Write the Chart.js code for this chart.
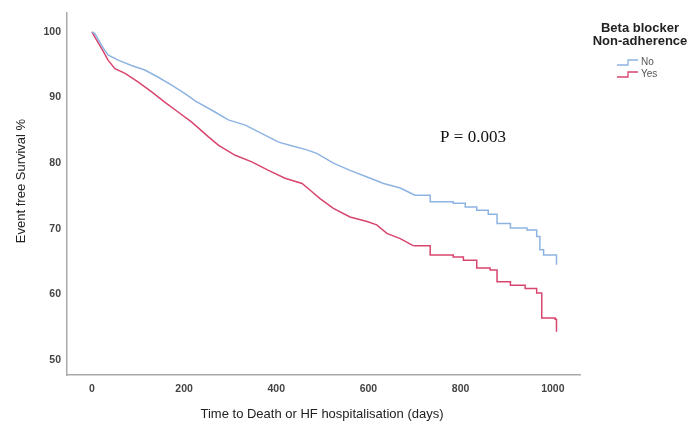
<!DOCTYPE html>
<html>
<head>
<meta charset="utf-8">
<script src="https://cdn.jsdelivr.net/npm/chart.js@4/dist/chart.umd.min.js"></script>
<style>
  html, body { margin: 0; padding: 0; background: #fff; }
  #wrap { width: 694px; height: 427px; }
</style>
</head>
<body>
<div id="wrap"><canvas id="km"></canvas></div>
<script>
// Kaplan-Meier curves (days, event free survival %)
// early part: many small events, reads as a near smooth line
var noDays = [0, 6, 25, 35, 57, 86, 115, 144, 173, 202, 224, 267, 296, 333, 369, 405, 441, 463, 488, 524, 560, 597, 633, 669, 701];
var noSurv = [100, 99.8, 97.5, 96.5, 95.7, 94.9, 94.2, 93.1, 91.9, 90.6, 89.5, 87.8, 86.6, 85.8, 84.5, 83.2, 82.5, 82.1, 81.5, 80, 78.9, 77.9, 76.9, 76.2, 75.1];
// tail: clear steps
var noTailDays = [701, 734, 784, 810, 835, 860, 879, 908, 944, 965, 972, 980, 1001, 1008];
var noTailSurv = [75.1, 74.1, 73.9, 73.3, 72.8, 72.2, 70.8, 70.1, 69.8, 68.8, 66.8, 66, 66, 64.5];

var yesDays = [0, 10, 25, 35, 50, 72, 100, 129, 158, 187, 216, 253, 275, 311, 347, 383, 419, 456, 473, 495, 524, 560, 597, 618, 640, 669, 698];
var yesSurv = [100, 98.8, 97, 95.7, 94.4, 93.7, 92.4, 90.9, 89.3, 87.8, 86.3, 84, 82.7, 81.2, 80.2, 78.9, 77.7, 76.9, 75.9, 74.6, 73.1, 71.8, 71.1, 70.6, 69.3, 68.5, 67.4];
var yesTailDays = [698, 734, 784, 806, 835, 864, 879, 908, 940, 965, 976, 1005, 1008];
var yesTailSurv = [67.4, 66, 65.7, 65.2, 64, 63.7, 61.9, 61.4, 60.9, 60.2, 56.4, 56.2, 54.3];

var xTicks = [0, 200, 400, 600, 800, 1000];
var yTicks = [50, 60, 70, 80, 90, 100];

var blue = "#8db3e2";
var red = "#d8456e";

function pts(xs, ys) {
  return xs.map(function (x, i) { return { x: x, y: ys[i] }; });
}

function curve(label, xs, ys, color, stepped) {
  return {
    label: label,
    data: pts(xs, ys),
    borderColor: color,
    borderWidth: 1.5,
    pointRadius: 0,
    stepped: stepped,
    tension: 0,
    fill: false
  };
}

var textPlugin = {
  id: "texts",
  afterDraw: function (chart) {
    var ctx = chart.ctx;
    ctx.save();
    ctx.fillStyle = "#222";
    ctx.textAlign = "center";
    ctx.textBaseline = "middle";

    // axis titles
    ctx.font = "13px 'Liberation Sans', Arial, sans-serif";
    ctx.fillText("Time to Death or HF hospitalisation (days)", 322, 414);
    ctx.save();
    ctx.translate(21, 181);
    ctx.rotate(-Math.PI / 2);
    ctx.fillText("Event free Survival %", 0, 0);
    ctx.restore();

    // legend
    ctx.font = "bold 13px 'Liberation Sans', Arial, sans-serif";
    ctx.fillText("Beta blocker", 640, 28);
    ctx.fillText("Non-adherence", 640, 41);

    ctx.textAlign = "left";
    ctx.font = "10px 'Liberation Sans', Arial, sans-serif";
    ctx.fillStyle = "#555";
    [["No", blue, 62], ["Yes", red, 74]].forEach(function (it) {
      ctx.strokeStyle = it[1];
      ctx.lineWidth = 1.3;
      ctx.beginPath();
      ctx.moveTo(617, it[2] + 3);
      ctx.lineTo(628, it[2] + 3);
      ctx.lineTo(628, it[2] - 2);
      ctx.lineTo(638, it[2] - 2);
      ctx.stroke();
      ctx.fillText(it[0], 641, it[2]);
    });

    // p value
    ctx.fillStyle = "#111";
    ctx.textAlign = "center";
    ctx.font = "17px 'Liberation Serif', 'Times New Roman', serif";
    ctx.fillText("P = 0.003", 473, 138);
    ctx.restore();
  }
};

var tickFont = { size: 10.5, weight: "bold", family: "'Liberation Sans', Arial, sans-serif" };

var chart = new Chart(document.getElementById("km"), {
  type: "line",
  data: {
    datasets: [
      curve("No", noDays, noSurv, blue, false),
      curve("No", noTailDays, noTailSurv, blue, "before"),
      curve("Yes", yesDays, yesSurv, red, false),
      curve("Yes", yesTailDays, yesTailSurv, red, "before")
    ]
  },
  options: {
    responsive: true,
    maintainAspectRatio: false,
    animation: false,
    layout: { padding: { top: 12, right: 114, left: 0, bottom: 0 } },
    plugins: {
      legend: { display: false },
      tooltip: { enabled: false }
    },
    scales: {
      x: {
        type: "linear",
        min: -54,
        max: 1059,
        afterBuildTicks: function (s) { s.ticks = xTicks.map(function (v) { return { value: v }; }); },
        afterFit: function (s) { s.height = 52; },
        grid: { display: false, drawTicks: false },
        border: { display: true, color: "#aaa", width: 1.5 },
        ticks: { color: "#444", padding: 8, font: tickFont, callback: function (v) { return String(v); } }
      },
      y: {
        min: 47.7,
        max: 103,
        afterBuildTicks: function (s) { s.ticks = yTicks.map(function (v) { return { value: v }; }); },
        afterFit: function (s) { s.width = 67; },
        grid: { display: false, drawTicks: false },
        border: { display: true, color: "#aaa", width: 1.5 },
        ticks: { color: "#444", padding: 6, font: tickFont, callback: function (v) { return String(v); } }
      }
    }
  },
  plugins: [textPlugin]
});
</script>
</body>
</html>
